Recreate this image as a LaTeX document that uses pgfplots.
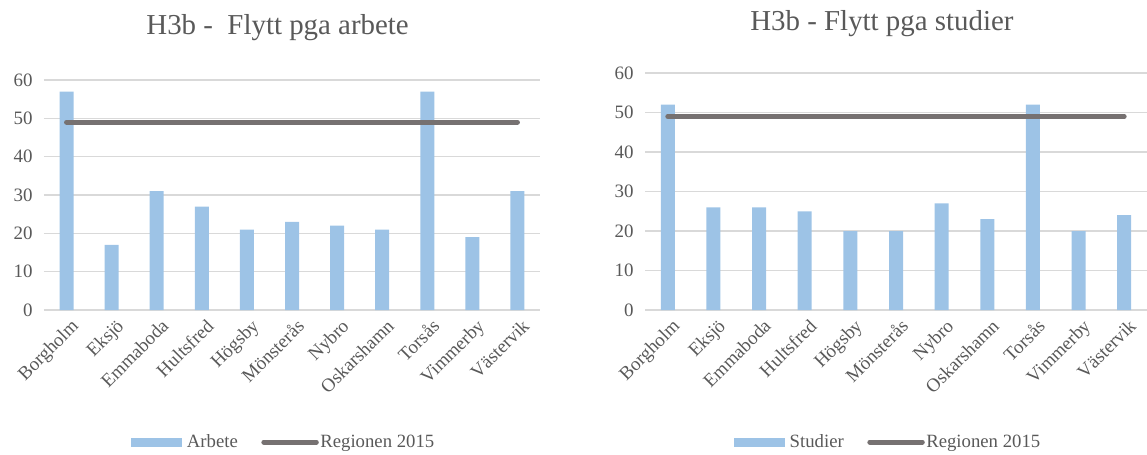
\documentclass[border=0pt]{standalone}
\usepackage{pgfplots}
\pgfplotsset{compat=1.18}
\usepackage{fontspec}
\setmainfont{Liberation Serif}
\definecolor{barblue}{HTML}{9DC3E6}
\definecolor{linegray}{HTML}{767171}
\definecolor{txtgray}{HTML}{595959}
\definecolor{gridgray}{HTML}{D9D9D9}
\tikzset{titlenode/.style={anchor=base, font=\fontsize{29}{33}\selectfont, text=txtgray, inner sep=0pt}}
\pgfplotsset{
 mystyle/.style={
  scale only axis,
  xmin=-0.5, xmax=10.5, ymin=0, ymax=60,
  ytick={0,10,...,60}, xtick={0,...,10},
  xticklabels={Borgholm,Eksjö,Emmaboda,Hultsfred,Högsby,Mönsterås,Nybro,Oskarshamn,Torsås,Vimmerby,Västervik},
  x tick label style={rotate=45, anchor=north east, font=\fontsize{19}{21}\selectfont, text=txtgray, inner sep=2bp, yshift=-6bp, xshift=-1bp},
  y tick label style={font=\fontsize{19}{21}\selectfont, text=txtgray},
  yticklabel style={xshift=-8bp},
  /pgf/number format/assume math mode=true,
  axis line style={draw=none}, tick style={draw=none},
  ymajorgrids, grid style={gridgray, line width=1.2bp},
  clip=false,
  legend columns=2,
  legend style={draw=none, fill=none, font=\fontsize{18.8}{20}\selectfont, text=txtgray, anchor=center,
    nodes={inner xsep=1.5bp},
    /tikz/every even column/.append style={column sep=22bp}},
 },
 barleg/.style={legend image code/.code={\fill[barblue] (0bp,-4.5bp) rectangle (51bp,4.5bp); \path (54bp,0bp);}},
 lineleg/.style={legend image code/.code={\draw[linegray, line width=5bp, line cap=round] (2.5bp,0bp) -- (55bp,0bp);}},
}
\begin{document}
\begin{tikzpicture}
\useasboundingbox (0,0) rectangle (1147bp,455bp);
\begin{axis}[mystyle, width=496bp, height=230bp, at={(44bp,145bp)}, anchor=south west,
  legend style={at={(axis description cs:0.483,-0.574)}}]
\addplot[ybar, bar width=14bp, fill=barblue, draw=none, barleg] coordinates {
(0,57) (1,17) (2,31) (3,27) (4,21) (5,23) (6,22) (7,21) (8,57) (9,19) (10,31)};
\addlegendentry{Arbete}
\addplot[linegray, line width=5bp, line cap=round, mark=none, lineleg] coordinates {(0,49) (10,49)};
\addlegendentry{Regionen 2015}
\node[titlenode] at (axis description cs:0.471,1.196) {H3b -\ \ Flytt pga arbete};
\end{axis}
\begin{axis}[mystyle, width=502bp, height=237bp, at={(645bp,145bp)}, anchor=south west,
  legend style={at={(axis description cs:0.484,-0.557)}}]
\addplot[ybar, bar width=14bp, fill=barblue, draw=none, barleg] coordinates {
(0,52) (1,26) (2,26) (3,25) (4,20) (5,20) (6,27) (7,23) (8,52) (9,20) (10,24)};
\addlegendentry{Studier}
\addplot[linegray, line width=5bp, line cap=round, mark=none, lineleg] coordinates {(0,49) (10,49)};
\addlegendentry{Regionen 2015}
\node[titlenode] at (axis description cs:0.472,1.181) {H3b - Flytt pga studier};
\end{axis}
\end{tikzpicture}
\end{document}
